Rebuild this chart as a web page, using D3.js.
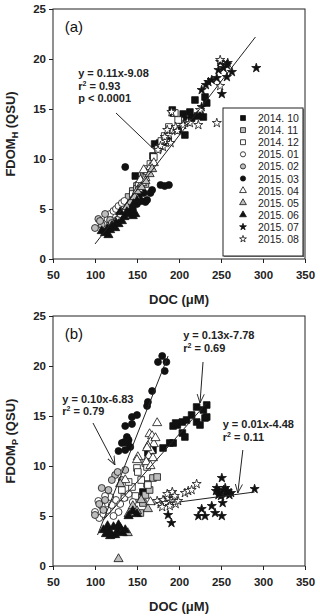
<!DOCTYPE html>
<html>
<head>
<meta charset="utf-8">
<script src="https://cdn.jsdelivr.net/npm/d3@7"></script>
<style>
  body { margin: 0; background: #fff; }
  svg { display: block; font-family: Arial, "Liberation Sans", sans-serif; }
</style>
</head>
<body>
<div id="chart"></div>
<script>
// legend categories (sampling months)
const months = ["2014. 10", "2014. 11", "2014. 12", "2015. 01", "2015. 02", "2015. 03",
                "2015. 04", "2015. 05", "2015. 06", "2015. 07", "2015. 08"];
const xTicks = [50, 100, 150, 200, 250, 300, 350];
const yTicks = [0, 5, 10, 15, 20, 25];

// panel (a): [DOC (uM), FDOM_H (QSU)]
const a_201410 = [[148,8.3],[169,10.3],[171,11.5],[177,11.6],[181,11.7],[187,11.9],[193,14.6],[192,14.9],[199,12.9],[207,12.4],[209,13.9],[213,14.7],[219,15.9],[225,14.4],[229,14.2],[231,16.2],[233,15.6],[222,14.3],[205,14.5],[215,14.1]];
const a_201411 = [[140,6.2],[145,6.8],[150,7.3],[155,7.9],[158,8.3],[162,8.8],[148,6.0],[152,6.6],[160,7.5],[143,5.5]];
const a_201412 = [[145,6.5],[150,7.0],[155,7.6],[160,8.2],[163,9.0],[166,9.5],[170,10.2],[175,11.0],[179,11.8],[183,12.3],[188,13.2],[195,14.6],[199,13.9],[152,7.4]];
const a_201501 = [[110,3.5],[115,4.0],[118,4.5],[122,4.8],[125,5.0],[128,5.3],[132,5.6],[135,5.8],[120,3.8],[130,4.5],[126,3.9]];
const a_201502 = [[100,3.1],[104,4.0],[112,4.5],[108,3.4],[118,3.9],[114,3.0],[120,3.6],[106,3.8]];
const a_201503 = [[136,9.2],[178,7.4],[183,7.3],[188,7.4],[150,5.5],[155,5.8],[160,5.7],[162,5.9],[158,6.6],[145,5.0],[140,4.8],[152,6.2],[166,6.6],[168,6.9]];
const a_201504 = [[148,6.3],[152,7.0],[156,7.6],[160,8.1],[163,8.7],[166,9.2],[170,9.6],[158,8.9],[145,6.0],[154,7.9]];
const a_201505 = [[142,5.7],[147,6.2],[150,6.8],[155,7.2],[160,7.8],[165,8.5],[168,9.0],[138,5.2]];
const a_201506 = [[108,2.8],[112,2.6],[115,3.0],[118,2.9],[120,3.3],[124,3.1],[128,3.5],[132,3.8],[135,4.2],[140,4.5],[145,4.3],[142,4.8],[138,4.7],[125,3.6],[116,2.4],[130,4.7],[148,4.5],[146,5.5],[150,5.8]];
const a_201507 = [[227,15.2],[227,16.9],[232,17.4],[239,17.9],[245,18.1],[247,18.9],[249,19.7],[253,19.1],[257,19.4],[258,19.6],[257,18.2],[263,18.7],[251,16.5],[292,19.1],[235,17.7]];
const a_201508 = [[181,11.2],[185,11.8],[188,12.4],[192,12.9],[196,13.2],[183,12.2],[190,11.6],[198,12.8],[205,13.4],[210,13.7],[223,13.4],[245,13.6],[178,11.3],[186,12.9],[175,10.9],[191,14.7],[213,13.6],[225,14.9],[249,19.9],[249,17.3]];

// panel (b): [DOC (uM), FDOM_P (QSU)]
const b_201410 = [[193,14.0],[198,14.1],[204,14.4],[209,14.6],[215,15.1],[221,15.9],[229,15.6],[233,16.1],[221,14.4],[225,14.1],[231,14.8],[233,14.9],[204,13.3],[207,12.9],[193,12.3],[181,11.8],[169,11.6],[163,11.3],[189,12.3],[157,7.4],[196,14.3]];
const b_201411 = [[169,8.8],[174,8.9],[160,7.1],[157,6.3],[154,5.3],[165,7.6],[150,6.8],[162,8.2]];
const b_201412 = [[160,10.3],[162,9.9],[150,9.8],[151,9.4],[163,8.1],[144,7.9],[132,7.6],[140,8.4],[155,8.6],[148,7.0],[135,6.9]];
const b_201501 = [[100,5.4],[105,4.8],[110,5.2],[108,6.0],[115,5.6],[120,6.1],[125,6.6],[118,6.9],[112,7.0],[130,6.2],[135,6.8],[128,5.4],[140,7.2],[104,6.5],[122,5.0],[145,6.4]];
const b_201502 = [[124,9.1],[127,9.4],[136,9.6],[132,8.6],[120,8.6],[116,7.6],[108,7.8],[100,5.1],[105,6.2],[112,6.6],[110,5.6]];
const b_201503 = [[180,21.0],[175,20.4],[185,20.4],[183,19.5],[168,17.5],[163,16.4],[162,16.0],[150,15.1],[144,14.9],[136,14.0],[144,14.2],[138,12.9],[135,12.4],[132,12.3],[139,12.3],[128,11.5],[142,11.9],[136,11.6],[140,12.6]];
const b_201504 = [[174,14.3],[165,13.2],[168,13.0],[166,12.4],[170,12.2],[163,12.0],[167,11.5],[164,11.0],[169,10.8],[161,10.4],[166,10.0],[151,10.9],[150,10.6],[136,8.6],[166,6.4],[172,12.8],[162,11.8]];
const b_201505 = [[128,0.7],[139,3.3],[163,5.7],[145,6.0],[150,5.5],[130,8.2],[155,6.6],[140,5.2]];
const b_201506 = [[110,3.6],[113,3.2],[116,3.5],[120,3.1],[124,3.1],[127,3.4],[130,3.8],[133,3.3],[128,4.1],[115,4.0],[118,3.0],[136,3.6],[122,3.9],[140,5.0],[145,5.5],[150,5.2]];
const b_201507 = [[251,8.8],[245,7.8],[248,7.4],[250,7.0],[253,7.6],[256,7.2],[258,7.5],[260,7.1],[262,7.3],[247,7.1],[255,7.8],[290,7.7],[252,6.3],[239,6.0],[227,5.7],[223,5.0],[231,5.0],[243,5.3],[251,5.0],[187,5.1],[191,4.3],[244,7.5]];
const b_201508 = [[174,6.5],[178,6.2],[181,6.6],[184,6.3],[187,6.8],[190,6.4],[193,6.7],[196,6.2],[199,6.5],[186,7.2],[192,7.4],[180,5.9],[189,6.0],[207,7.3],[211,7.5],[215,7.6],[221,8.2],[195,7.0]];

// regression lines (end points in data units)
const fitA = [[100, 1.5], [291, 22.2]];
const fitB1 = [[103, 3.1], [187, 21.0]];
const fitB2 = [[110, 4.6], [233, 16.3]];
const fitB3 = [[200, 6.4], [290, 7.4]];

const panelA = [a_201410, a_201411, a_201412, a_201501, a_201502, a_201503, a_201504, a_201505, a_201506, a_201507, a_201508];
const panelB = [b_201410, b_201411, b_201412, b_201501, b_201502, b_201503, b_201504, b_201505, b_201506, b_201507, b_201508];

// marker style per month
const styles = [
  {type: d3.symbolSquare,   fill: "#111"},
  {type: d3.symbolSquare,   fill: "#bdbdbd"},
  {type: d3.symbolSquare,   fill: "#fff"},
  {type: d3.symbolCircle,   fill: "#fff"},
  {type: d3.symbolCircle,   fill: "#bdbdbd"},
  {type: d3.symbolCircle,   fill: "#111"},
  {type: d3.symbolTriangle, fill: "#fff"},
  {type: d3.symbolTriangle, fill: "#bdbdbd"},
  {type: d3.symbolTriangle, fill: "#111"},
  {type: d3.symbolStar,     fill: "#111"},
  {type: d3.symbolStar,     fill: "#fff"}
];
const symSize = {square: 44, circle: 38, triangle: 36, star: 26};
function sizeOf(t) {
  if (t === d3.symbolSquare) return symSize.square;
  if (t === d3.symbolCircle) return symSize.circle;
  if (t === d3.symbolTriangle) return symSize.triangle;
  return symSize.star;
}

const svg = d3.select("#chart").append("svg")
  .attr("width", 320)
  .attr("height", 616);

svg.append("defs").append("marker")
    .attr("id", "vhead")
    .attr("viewBox", "0 0 10 10")
    .attr("refX", 10).attr("refY", 5)
    .attr("markerWidth", 9).attr("markerHeight", 9)
    .attr("markerUnits", "userSpaceOnUse")
    .attr("orient", "auto")
  .append("path")
    .attr("d", "M0,1 L10,5 L0,9")
    .attr("fill", "none")
    .attr("stroke", "#222")
    .attr("stroke-width", 1);

// writes lines of bold text, "^2" marks a superscript 2
function noteText(g, x0, y0, lines, dy) {
  lines.forEach((s, i) => {
    const t = g.append("text")
      .attr("x", x0).attr("y", y0 + i * dy)
      .attr("font-size", 11).attr("font-weight", "bold").attr("fill", "#222");
    const parts = s.split("^2");
    t.append("tspan").text(parts[0]);
    if (parts.length > 1) {
      t.append("tspan").attr("font-size", 7).attr("dy", -4).text("2");
      t.append("tspan").attr("dy", 4).text(parts[1]);
    }
  });
}

function drawPanel(top, data, tag, sub) {
  const x = d3.scaleLinear().domain([50, 350]).range([53, 305]);
  const y = d3.scaleLinear().domain([0, 25]).range([top + 250, top]);
  const g = svg.append("g");

  // frame
  g.append("rect")
    .attr("x", x(50)).attr("y", y(25))
    .attr("width", x(350) - x(50)).attr("height", y(0) - y(25))
    .attr("fill", "none").attr("stroke", "#222").attr("stroke-width", 1);

  const xa = g.append("g")
    .attr("transform", `translate(0,${y(0)})`)
    .call(d3.axisBottom(x).tickValues(xTicks).tickSize(4).tickPadding(8));
  const ya = g.append("g")
    .attr("transform", `translate(${x(50)},0)`)
    .call(d3.axisLeft(y).tickValues(yTicks).tickSize(4).tickPadding(3));
  [xa, ya].forEach(a => {
    a.select(".domain").remove();
    a.selectAll("line").attr("stroke", "#222");
    a.selectAll("text").attr("font-size", 11.5).attr("font-weight", "bold")
      .attr("fill", "#222").attr("font-family", "Arial, 'Liberation Sans', sans-serif");
  });

  g.append("text")
    .attr("x", (x(50) + x(350)) / 2).attr("y", y(0) + 45)
    .attr("text-anchor", "middle")
    .attr("font-size", 13).attr("font-weight", "bold").attr("fill", "#222")
    .text("DOC (\u03bcM)");

  const yl = g.append("text")
    .attr("transform", `translate(15,${top + 125}) rotate(-90)`)
    .attr("text-anchor", "middle")
    .attr("font-size", 13).attr("font-weight", "bold").attr("fill", "#222");
  yl.append("tspan").text("FDOM");
  yl.append("tspan").attr("font-size", 9).attr("dy", 3).text(sub);
  yl.append("tspan").attr("dy", -3).text(" (QSU)");

  g.append("text")
    .attr("x", x(64)).attr("y", y(22.7))
    .attr("font-size", 15).attr("fill", "#111")
    .text(tag);

  data.forEach((pts, i) => {
    const st = styles[i];
    const sym = d3.symbol().type(st.type).size(sizeOf(st.type));
    g.append("g").selectAll("path")
      .data(pts)
      .join("path")
        .attr("transform", d => `translate(${x(d[0])},${y(d[1])})`)
        .attr("d", sym)
        .attr("fill", st.fill)
        .attr("stroke", "#111")
        .attr("stroke-width", 0.8);
  });

  return {g, x, y};
}

const line = (x, y) => d3.line().x(d => x(d[0])).y(d => y(d[1]));

// ---------- panel (a)
const A = drawPanel(9, panelA, "(a)", "H");
A.g.append("path").datum(fitA)
  .attr("d", line(A.x, A.y)).attr("stroke", "#222").attr("stroke-width", 1).attr("fill", "none");
noteText(A.g, A.x(80), A.y(18.2), ["y =  0.11x-9.08", "r^2 = 0.93", "p < 0.0001"], 12.5);
A.g.append("path").datum([[125, 14.6], [171, 10.9]])
  .attr("d", line(A.x, A.y)).attr("stroke", "#222").attr("stroke-width", 1).attr("fill", "none");

// legend
const leg = A.g.append("g").attr("transform", "translate(223,108)");
leg.append("rect")
  .attr("width", 80).attr("height", 148)
  .attr("fill", "#fff").attr("stroke", "#222").attr("stroke-width", 1);
leg.append("path").attr("d", "M1,148.5 H80.5 V1").attr("stroke", "#555").attr("stroke-width", 1.2).attr("fill", "none");
months.forEach((m, i) => {
  const st = styles[i];
  const row = leg.append("g").attr("transform", `translate(20,${10 + i * 12.1})`);
  row.append("path")
    .attr("d", d3.symbol().type(st.type).size(sizeOf(st.type) * 0.55))
    .attr("fill", st.fill).attr("stroke", "#111").attr("stroke-width", 0.8);
  row.append("text")
    .attr("x", 15).attr("y", 4)
    .attr("font-size", 10.5).attr("fill", "#222")
    .text(m);
});

// ---------- panel (b)
const B = drawPanel(316, panelB, "(b)", "P");
[fitB1, fitB2, fitB3].forEach(f => {
  B.g.append("path").datum(f)
    .attr("d", line(B.x, B.y)).attr("stroke", "#222").attr("stroke-width", 1).attr("fill", "none");
});
noteText(B.g, B.x(205), B.y(22.7), ["y = 0.13x-7.78", "r^2 = 0.69"], 13);
noteText(B.g, B.x(61), B.y(16.3), ["y = 0.10x-6.83", " r^2 = 0.79"], 12);
noteText(B.g, B.x(252), B.y(13.8), ["y = 0.01x-4.48", " r^2 = 0.11"], 13);
[
  [[228.6, 20.4], [225, 16.3]],
  [[97.6, 14.3], [123.8, 10.1]],
  [[276, 11.6], [270, 7.3]]
].forEach(a => {
  B.g.append("path").datum(a)
    .attr("d", line(B.x, B.y)).attr("stroke", "#222").attr("stroke-width", 1)
    .attr("fill", "none").attr("marker-end", "url(#vhead)");
});
</script>
</body>
</html>
